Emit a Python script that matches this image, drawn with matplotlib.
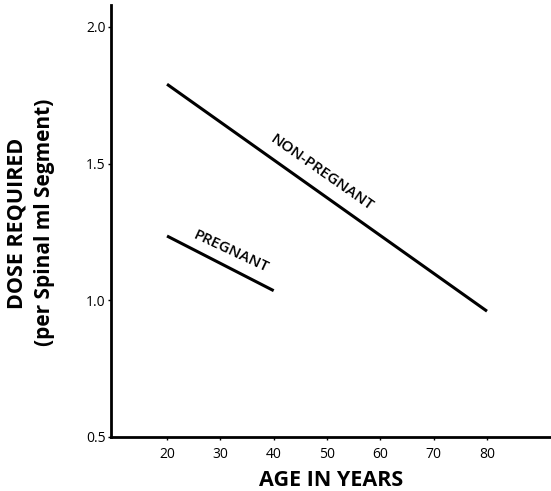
import matplotlib.pyplot as plt

# Dose vs age
ages_non_pregnant = [20, 80]
dose_non_pregnant = [1.79, 0.96]
ages_pregnant = [20, 40]
dose_pregnant = [1.235, 1.035]

x_ticks = [20, 30, 40, 50, 60, 70, 80]
y_ticks = [0.5, 1.0, 1.5, 2.0]

plt.rcParams['font.family'] = ['Open Sans', 'DejaVu Sans']

fig = plt.figure(figsize=(5.51, 4.91), dpi=100)
ax = fig.add_axes([0.2015, 0.11, 0.7985, 0.88])

ax.plot(ages_non_pregnant, dose_non_pregnant, color='black', lw=2.2, solid_capstyle='butt')
ax.plot(ages_pregnant, dose_pregnant, color='black', lw=2.2, solid_capstyle='butt')

ax.set_xlim(9.5, 92)
ax.set_ylim(0.5, 2.08)

ax.set_xticks(x_ticks)
ax.set_yticks(y_ticks)
ax.set_yticklabels(['0.5', '1.0', '1.5', '2.0'])
ax.tick_params(axis='both', labelsize=10, length=2, width=1, color='black', pad=2)
ax.tick_params(axis='x', pad=5)

for side in ['top', 'right']:
    ax.spines[side].set_visible(False)
for side in ['left', 'bottom']:
    ax.spines[side].set_linewidth(2)

ax.text(49.1, 1.465, 'NON-PREGNANT', rotation=-35, ha='center', va='center',
        fontsize=11, fontweight='semibold')
ax.text(32.0, 1.18, 'PREGNANT', rotation=-25, ha='center', va='center',
        fontsize=11, fontweight='semibold')

ax.set_xlabel('AGE IN YEARS', fontsize=15.5, fontweight='bold', labelpad=6)

fig.text(0.03, 0.545, 'DOSE REQUIRED', rotation=90, ha='center', va='center',
         fontsize=15.5, fontweight='bold')
fig.text(0.08, 0.548, '(per Spinal ml Segment)', rotation=90, ha='center', va='center',
         fontsize=15, fontweight='bold')

fig.savefig('out.png', dpi=100)
